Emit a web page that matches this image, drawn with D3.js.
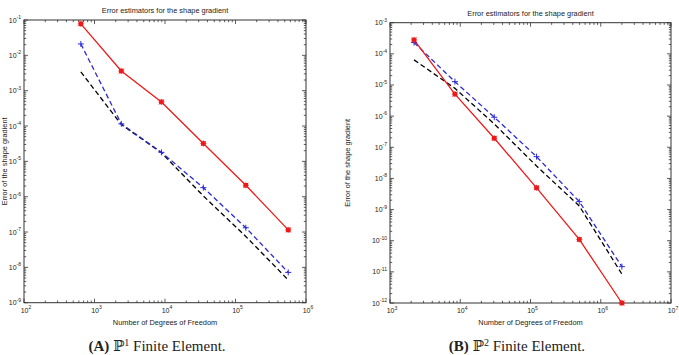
<!DOCTYPE html>
<html>
<head>
<meta charset="utf-8">
<script src="https://cdn.jsdelivr.net/npm/d3@7"></script>
<style>
	body { margin: 0; background: #fff; }
	svg { display: block; }
	text { font-family: "Liberation Sans", Arial, sans-serif; fill: #222; }
</style>
</head>
<body>
<div id="chart"></div>
<script>
// Data
const dofA = [640, 2400, 8900, 35000, 140000, 560000];
const errA_red = [7.8e-2, 3.6e-3, 4.8e-4, 3.2e-5, 2.1e-6, 1.15e-7];
const errA_blue = [2.1e-2, 1.15e-4, 1.8e-5, 1.8e-6, 1.32e-7, 7.2e-9];
const errA_black = [3.4e-3, 1.1e-4, 1.75e-5, 1.05e-6, 7.5e-8, 4.4e-9];

const dofB = [2200, 8400, 30500, 122000, 495000, 2000000];
const errB_red = [2.8e-4, 5.1e-6, 1.95e-7, 5.0e-9, 1.1e-10, 1.0e-12];
const errB_blue = [2.3e-4, 1.28e-5, 9.2e-7, 5.0e-8, 1.8e-9, 1.47e-11];
const errB_black = [6.4e-5, 7.8e-6, 5.6e-7, 2.5e-8, 1.3e-9, 8.5e-12];

const xTicksA = [1e2, 1e3, 1e4, 1e5, 1e6];
const yTicksA = [1e-9, 1e-8, 1e-7, 1e-6, 1e-5, 1e-4, 1e-3, 1e-2, 1e-1];
const xTicksB = [1e3, 1e4, 1e5, 1e6, 1e7];
const yTicksB = [1e-12, 1e-11, 1e-10, 1e-9, 1e-8, 1e-7, 1e-6, 1e-5, 1e-4, 1e-3];

const title = "Error estimators for the shape gradient";
const xTitle = "Number of Degrees of Freedom";
const yTitle = "Error of the shape gradient";

const width = 679, height = 355;

const svg = d3.select('#chart').append('svg')
	.attr('width', width)
	.attr('height', height);

function panel(p) {
	const x = d3.scaleLog().domain(p.xDomain).range([p.left, p.right]);
	const y = d3.scaleLog().domain(p.yDomain).range([p.bottom, p.top]);
	const g = svg.append('g');

	// frame
	g.append('rect')
		.attr('x', p.left).attr('y', p.top)
		.attr('width', p.right - p.left).attr('height', p.bottom - p.top)
		.attr('fill', '#fff').attr('stroke', '#333').attr('stroke-width', 1);

	// ticks inside on all four sides
	const isMajor = v => Math.abs(Math.log10(v) - Math.round(Math.log10(v))) < 1e-9;
	const xt = x.ticks(), yt = y.ticks();
	const tk = g.append('g').attr('stroke', '#333').attr('stroke-width', 0.8);
	xt.forEach(v => {
		const l = isMajor(v) ? 4 : 2.2;
		tk.append('line').attr('x1', x(v)).attr('x2', x(v)).attr('y1', p.bottom).attr('y2', p.bottom - l);
		tk.append('line').attr('x1', x(v)).attr('x2', x(v)).attr('y1', p.top).attr('y2', p.top + l);
	});
	yt.forEach(v => {
		const l = isMajor(v) ? 4 : 2.2;
		tk.append('line').attr('y1', y(v)).attr('y2', y(v)).attr('x1', p.left).attr('x2', p.left + l);
		tk.append('line').attr('y1', y(v)).attr('y2', y(v)).attr('x1', p.right).attr('x2', p.right - l);
	});

	// tick labels 10^n
	function powLabel(sel, v) {
		sel.append('tspan').text('10');
		sel.append('tspan').attr('dy', -3.5).attr('font-size', '5px')
			.text(Math.round(Math.log10(v)));
	}
	p.xTicks.forEach(v => {
		g.append('text')
			.attr('x', x(v) + 2).attr('y', p.bottom + 10)
			.attr('text-anchor', 'middle')
			.attr('font-size', '7px')
			.call(powLabel, v);
	});
	p.yTicks.forEach(v => {
		g.append('text')
			.attr('x', p.left - 3).attr('y', y(v) + 2.5)
			.attr('text-anchor', 'end')
			.attr('font-size', '7px')
			.call(powLabel, v);
	});

	// titles
	g.append('text')
		.attr('x', (p.left + p.right) / 2).attr('y', p.top - 7)
		.attr('text-anchor', 'middle').attr('font-size', '7.4px')
		.text(title);
	g.append('text')
		.attr('x', (p.left + p.right) / 2).attr('y', p.bottom + 22)
		.attr('text-anchor', 'middle').attr('font-size', '7.4px')
		.text(xTitle);
	g.append('text')
		.attr('transform', `translate(${p.yLabelX},${(p.top + p.bottom) / 2}) rotate(-90)`)
		.attr('text-anchor', 'middle').attr('font-size', '7.4px')
		.text(yTitle);

	// series
	const line = d3.line().x(d => x(d[0])).y(d => y(d[1]));
	const series = [
		{ vals: p.black, color: '#000', dash: '5,3' },
		{ vals: p.blue, color: '#2a2ad8', dash: '5,3' },
		{ vals: p.red, color: '#ee1a1a', dash: null }
	];
	series.forEach(s => {
		g.append('path')
			.datum(d3.zip(p.dof, s.vals))
			.attr('d', line)
			.attr('fill', 'none')
			.attr('stroke', s.color)
			.attr('stroke-width', 1.3)
			.attr('stroke-dasharray', s.dash);
	});

	// blue + markers
	g.append('g').selectAll('path')
		.data(d3.zip(p.dof, p.blue))
		.join('path')
		.attr('d', d => `M${x(d[0]) - 3},${y(d[1])}h6M${x(d[0])},${y(d[1]) - 3}v6`)
		.attr('stroke', '#2a2ad8').attr('stroke-width', 1);

	// red * markers
	const rm = g.append('g').selectAll('g')
		.data(d3.zip(p.dof, p.red))
		.join('g')
		.attr('transform', d => `translate(${x(d[0])},${y(d[1])})`);
	rm.append('rect').attr('x', -2.3).attr('y', -2.3).attr('width', 4.6).attr('height', 4.6)
		.attr('fill', '#ee1a1a');
	rm.append('path').attr('d', 'M-3,0h6M0,-3v6M-2.5,-2.5l5,5M-2.5,2.5l5,-5')
		.attr('stroke', '#ee1a1a').attr('stroke-width', 0.8);

	// caption
	const cap = svg.append('text')
		.attr('x', p.capX).attr('y', 351)
		.attr('text-anchor', 'middle')
		.style('font-family', '"Liberation Serif", "DejaVu Serif", serif')
		.attr('font-size', '15px');
	cap.append('tspan').attr('font-weight', 'bold').text(p.capLetter + ' ');
	cap.append('tspan').text('\u2119');
	cap.append('tspan').attr('dy', -5).attr('font-size', '10px').text(p.capSup);
	cap.append('tspan').attr('dy', 5).text(' Finite Element.');
}

panel({
	left: 24, right: 306, top: 20, bottom: 302.7,
	xDomain: [1e2, 1e6], yDomain: [1e-9, 1e-1],
	xTicks: xTicksA, yTicks: yTicksA,
	dof: dofA, red: errA_red, blue: errA_blue, black: errA_black,
	yLabelX: 6.5, capX: 157, capLetter: '(A)', capSup: '1'
});

panel({
	left: 390, right: 671, top: 22.7, bottom: 303,
	xDomain: [1e3, 1e7], yDomain: [1e-12, 1e-3],
	xTicks: xTicksB, yTicks: yTicksB,
	dof: dofB, red: errB_red, blue: errB_blue, black: errB_black,
	yLabelX: 350, capX: 517, capLetter: '(B)', capSup: '2'
});
</script>
</body>
</html>
